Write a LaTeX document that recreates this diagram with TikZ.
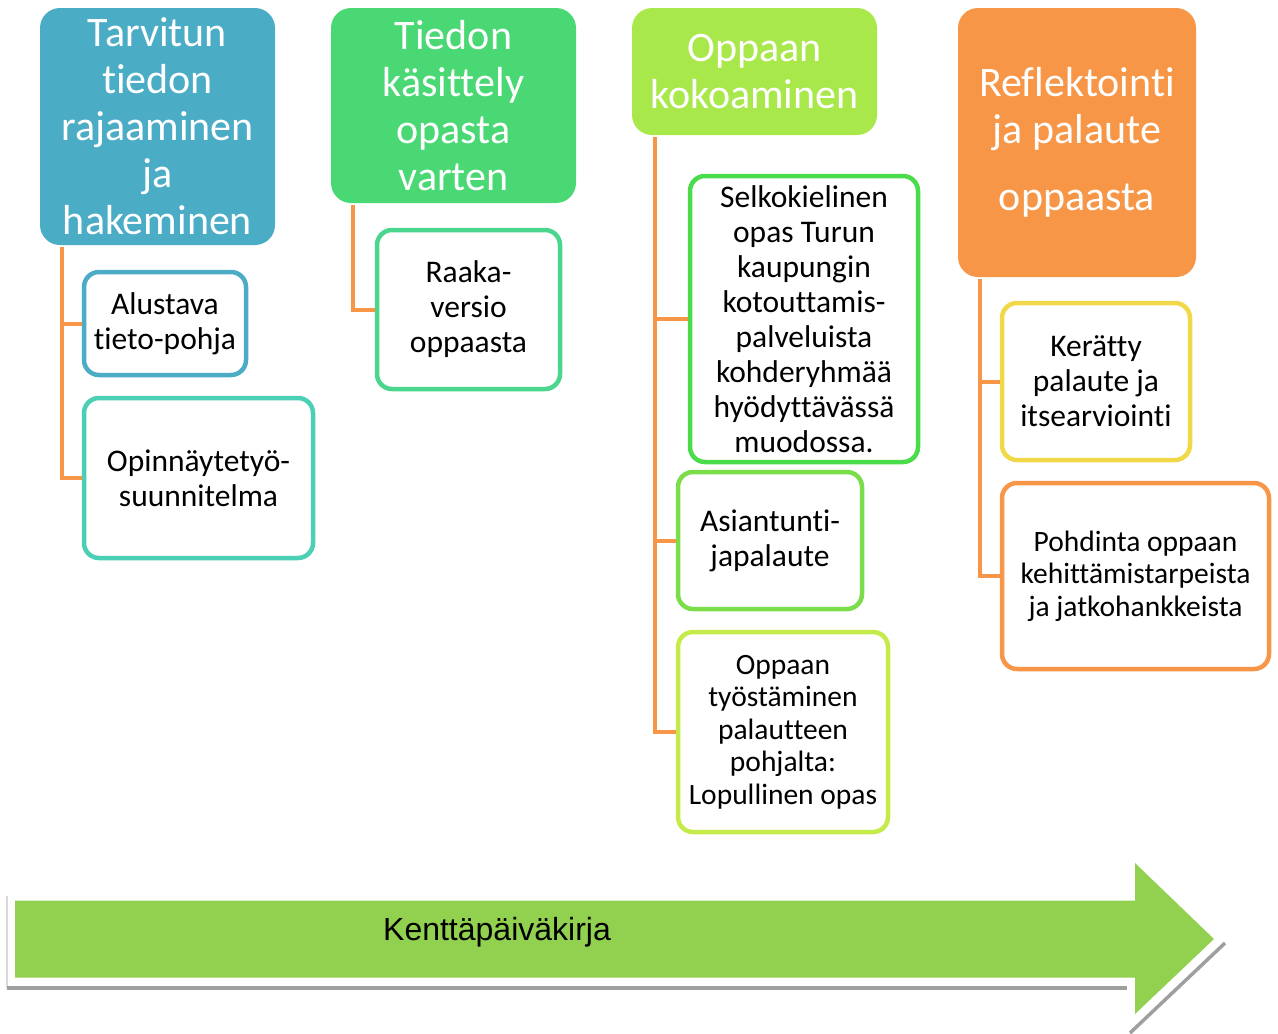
\documentclass[tikz,border=0pt]{standalone}
\usepackage{fontspec}
\setmainfont{Carlito}[Ligatures=NoCommon]
\newfontfamily\arialfont{Liberation Sans}
\begin{document}
\definecolor{cblue}{HTML}{4BACC6}
\definecolor{cgreen}{HTML}{4AD874}
\definecolor{clime}{HTML}{A9E84A}
\definecolor{corange}{HTML}{F79646}
\definecolor{cteal}{HTML}{4BD0B6}
\definecolor{cmint}{HTML}{4AD68D}
\definecolor{cbright}{HTML}{4ADC4A}
\definecolor{cyg}{HTML}{7CDD4A}
\definecolor{cpale}{HTML}{C5EB4A}
\definecolor{cyellow}{HTML}{F0D848}
\definecolor{carrow}{HTML}{92D050}
\begin{tikzpicture}[x=1pt,y=-1pt,
  hdr/.style={rounded corners=20pt, inner sep=0pt, text=white, align=center,
    font=\fontsize{42}{47}\selectfont},
  child/.style={draw, line width=4.5pt, fill=white, rounded corners=15pt, inner sep=0pt,
    align=center, text=black, font=\fontsize{31.5}{35}\selectfont},
  childs/.style={child, font=\fontsize{29.5}{32.5}\selectfont},
  conn/.style={draw=corange, line width=4pt},
  shadowline/.style={draw=gray!75, line width=3.5pt}]
\useasboundingbox (0,0) rectangle (1278,1034);
% headers
\node[hdr, fill=cblue, minimum width=235pt, minimum height=237pt] (h1) at (157.5,126.5)
  {Tarvitun\\tiedon\\rajaaminen\\ja\\hakeminen};
\node[hdr, fill=cgreen, minimum width=245pt, minimum height=195pt] (h2) at (453.5,105.5)
  {Tiedon\\käsittely\\opasta\\varten};
\node[hdr, fill=clime, minimum width=245pt, minimum height=127pt] (h3) at (754.5,71.5)
  {Oppaan\\kokoaminen};
\node[hdr, fill=corange, minimum width=238pt, minimum height=269pt] (h4) at (1077,142.5)
  {Reflektointi\\ja palaute\\[20pt]oppaasta};
% children
\node[child, draw=cblue, minimum width=162pt, minimum height=103pt] (c11) at (165,323.5)
  {Alustava\\tieto-pohja};
\node[child, draw=cteal, minimum width=229pt, minimum height=160pt] (c12) at (198.5,478)
  {Opinnäytetyö-\\suunnitelma};
\node[child, draw=cmint, minimum width=183pt, minimum height=159pt] (c21) at (468.5,309.5)
  {Raaka-\\versio\\oppaasta};
\node[child, draw=cbright, minimum width=228pt, minimum height=286pt] (c31) at (804,319)
  {Selkokielinen\\opas Turun\\kaupungin\\kotouttamis-\\palveluista\\kohderyhmää\\hyödyttävässä\\muodossa.};
\node[child, draw=cyg, minimum width=184pt, minimum height=137pt] (c32) at (770,540.5)
  {Asiantunti-\\japalaute};
\node[childs, draw=cpale, minimum width=210pt, minimum height=200pt] (c33) at (783,732)
  {Oppaan\\työstäminen\\palautteen\\pohjalta:\\Lopullinen opas};
\node[child, draw=cyellow, minimum width=188pt, minimum height=157pt] (c41) at (1096,381.5)
  {Kerätty\\palaute ja\\itsearviointi};
\node[childs, draw=corange, minimum width=267pt, minimum height=186pt] (c42) at (1135.5,576)
  {Pohdinta oppaan\\kehittämistarpeista\\ja jatkohankkeista};
% connectors
\draw[conn] ([xshift=22pt,yshift=-2pt]h1.south west) |- (c11.west);
\draw[conn] ([xshift=22pt,yshift=-2pt]h1.south west) |- (c12.west);
\draw[conn] ([xshift=22pt,yshift=-2pt]h2.south west) |- (c21.west);
\draw[conn] ([xshift=23pt,yshift=-2pt]h3.south west) |- (c31.west);
\draw[conn] ([xshift=23pt,yshift=-2pt]h3.south west) |- (c32.west);
\draw[conn] ([xshift=23pt,yshift=-2pt]h3.south west) |- (c33.west);
\draw[conn] ([xshift=22pt,yshift=-2pt]h4.south west) |- (c41.west);
\draw[conn] ([xshift=22pt,yshift=-2pt]h4.south west) |- (c42.west);
% timeline arrow
\draw[draw=gray!30, line width=1.5pt] (7,896) -- (7,988);
\draw[shadowline, line width=4pt] (7,988) -- (1127,988);
\draw[shadowline] (1225,943) -- (1130,1033);
\fill[carrow] (15,900.5) -- (1135,900.5) -- (1135,863) -- (1214,939) -- (1135,1014) -- (1135,977.5) -- (15,977.5) -- cycle;
\node[font=\arialfont\fontsize{32}{36}\selectfont, text=black] (kp) at (497,932) {Kenttäpäiväkirja};
\end{tikzpicture}
\end{document}
